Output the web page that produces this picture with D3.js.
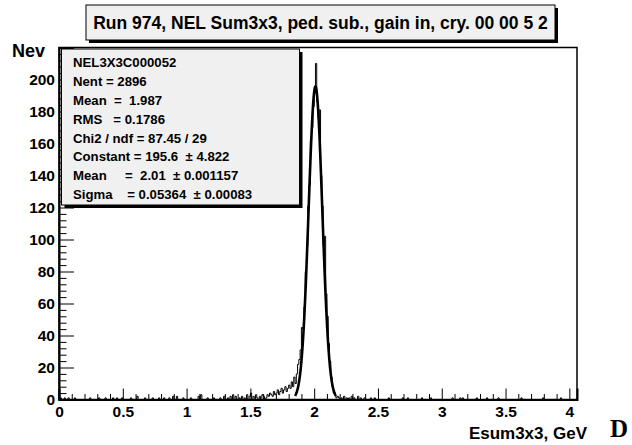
<!DOCTYPE html>
<html><head><meta charset="utf-8">
<script src="https://cdn.jsdelivr.net/npm/d3@7"></script>
<style>
html,body{margin:0;padding:0;background:#fff;}
svg{display:block;font-family:"Liberation Sans",Arial,sans-serif;font-weight:bold;}
</style></head>
<body><svg id="c" width="632" height="445"></svg>
<script>
// ---------- data ----------
const titleText = "Run 974, NEL Sum3x3, ped. sub., gain in, cry. 00 00 5 2";
const yAxisTitle = "Nev";
const xAxisTitle = "Esum3x3, GeV";
const cornerLabel = "D";
const xTickValues = [0, 0.5, 1, 1.5, 2, 2.5, 3, 3.5, 4];
const xTickLabels = ["0", "0.5", "1", "1.5", "2", "2.5", "3", "3.5", "4"];
const yTickValues = [0, 20, 40, 60, 80, 100, 120, 140, 160, 180, 200];
const yTickLabels = ["0", "20", "40", "60", "80", "100", "120", "140", "160", "180", "200"];
const xMin = 0, xMax = 4.06, yMax = 220;
const binWidth = 0.01;
// dense counts of the peak region, bins starting at 1.80
const peakStart = 1.80;
const peakCounts = [9, 7, 11, 8, 14, 10, 16, 22, 25, 31,
                    45, 44, 58, 80, 96, 121, 134, 162, 170, 183,
                    192, 210, 186, 176, 181, 140, 121, 96, 102, 66,
                    52, 35, 24, 14, 8, 4, 3, 1, 2, 1];
// sparse background bins outside the peak: [bin low edge, count]
const bgBins = [[0.01,1],[0.04,1],[0.07,1],[0.12,1],[0.24,1],[0.31,1],[0.36,1],[0.42,1],[0.45,1],[0.49,1],
  [0.56,1],[0.61,2],[0.67,1],[0.73,1],[0.78,1],[0.82,1],[0.86,1],[0.89,2],[0.92,2],[0.97,1],
  [1.03,1],[1.09,2],[1.11,3],[1.16,1],[1.21,1],[1.26,1],[1.29,2],[1.32,1],[1.34,2],[1.36,3],
  [1.38,2],[1.41,1],[1.43,2],[1.45,1],[1.47,3],[1.49,2],[1.50,4],[1.52,2],[1.54,3],[1.55,1],
  [1.57,2],[1.59,3],[1.60,2],[1.62,1],[1.63,3],[1.64,2],[1.65,4],[1.66,3],[1.67,2],[1.68,5],
  [1.69,3],[1.70,4],[1.71,6],[1.72,3],[1.73,5],[1.74,7],[1.75,4],[1.76,6],[1.77,8],[1.78,5],[1.79,7],
  [2.21,1],[2.23,2],[2.25,1],[2.27,1],[2.29,2],[2.31,1],[2.34,2],[2.36,1],[2.39,1],[2.44,1],
  [2.47,1],[2.58,1],[2.69,1],[2.73,1],[2.84,1],[2.91,1],[3.08,1],[3.14,1],[3.16,1],[3.27,1],
  [3.35,1],[3.44,1],[3.62,1],[3.79,1],[3.93,1]];
// fit (gaussian) parameters from the stats box
const fitConstant = 195.6, fitMean = 2.01, fitSigma = 0.05364;
const fitRange = [1.85, 2.17];
const statsLines = ["NEL3X3C000052", "Nent = 2896", "Mean  =  1.987", "RMS   = 0.1786",
  "Chi2 / ndf = 87.45 / 29", "Constant = 195.6  \u00b1 4.822", "Mean     =  2.01  \u00b1 0.001157",
  "Sigma    = 0.05364  \u00b1 0.00083"];

// ---------- build histogram ----------
const nBins = Math.round((xMax - xMin) / binWidth);
const counts = new Array(nBins).fill(0);
bgBins.forEach(([x, c]) => { counts[Math.round((x - xMin) / binWidth)] += c; });
peakCounts.forEach((c, i) => { counts[Math.round((peakStart - xMin) / binWidth) + i] += c; });
const histPts = counts.map((c, i) => [xMin + i * binWidth, c]);
histPts.push([xMax, counts[nBins - 1]]);

// ---------- layout ----------
const svg = d3.select("#c");
const L = 59, R = 577, T = 47.5, B = 399.5;
const x = d3.scaleLinear().domain([xMin, xMax]).range([L, R]);
const y = d3.scaleLinear().domain([0, yMax]).range([B, T]);

// histogram
svg.append("path")
  .attr("d", d3.line().x(d => x(d[0])).y(d => y(d[1])).curve(d3.curveStepAfter)(histPts))
  .attr("fill", "none").attr("stroke", "#000").attr("stroke-width", 1);

// fit curve
const fitXs = d3.range(0, 201).map(i => fitRange[0] + (fitRange[1] - fitRange[0]) * i / 200);
svg.append("path")
  .attr("d", d3.line().x(d => x(d)).y(d => y(fitConstant * Math.exp(-0.5 * Math.pow((d - fitMean) / fitSigma, 2))))(fitXs))
  .attr("fill", "none").attr("stroke", "#000").attr("stroke-width", 2.6);

// frame
svg.append("rect").attr("x", L).attr("y", T).attr("width", R - L).attr("height", B - T)
  .attr("fill", "none").attr("stroke", "#000").attr("stroke-width", 1.5);

// axes
const yMinor = d3.range(0, yMax + 0.1, 4).filter(v => v % 20 !== 0);
const xMinor = d3.range(0, 41).map(i => i / 10).filter(v => Math.abs(v * 2 - Math.round(v * 2)) > 1e-6);

const gy = svg.append("g").attr("transform", `translate(${L},0)`)
  .call(d3.axisLeft(y).tickValues(yTickValues).tickSize(-15).tickPadding(4)
    .tickFormat((d, i) => yTickLabels[i]));
gy.select(".domain").attr("stroke-width", 2);
const gyMinor = svg.append("g").attr("transform", `translate(${L},0)`)
  .call(d3.axisLeft(y).tickValues(yMinor).tickSize(-7.5).tickFormat(""));
gyMinor.select(".domain").remove();

const gx = svg.append("g").attr("transform", `translate(0,${B})`)
  .call(d3.axisBottom(x).tickValues(xTickValues).tickSize(-11).tickPadding(4)
    .tickFormat((d, i) => xTickLabels[i]));
gx.select(".domain").attr("stroke-width", 2);
const gxMinor = svg.append("g").attr("transform", `translate(0,${B})`)
  .call(d3.axisBottom(x).tickValues(xMinor).tickSize(-5.5).tickFormat(""));
gxMinor.select(".domain").remove();

svg.selectAll(".tick line").attr("stroke", "#000").attr("stroke-width", 1);
svg.selectAll(".tick text").attr("font-family", "Liberation Sans").attr("font-weight", "bold")
  .attr("font-size", 15.5).attr("fill", "#000");
gx.selectAll(".tick text").attr("dy", "0.9em");

// axis titles
svg.append("text").attr("x", 12).attr("y", 57).attr("font-size", 18).text(yAxisTitle);
svg.append("text").attr("x", 587).attr("y", 439).attr("text-anchor", "end").attr("font-size", 17).text(xAxisTitle);
svg.append("text").attr("x", 610).attr("y", 437).attr("font-family", "Liberation Serif").attr("font-size", 25).text(cornerLabel);

// title box
function box(x0, y0, w, h) {
  svg.append("rect").attr("x", x0 + 3).attr("y", y0 + 3).attr("width", w).attr("height", h).attr("fill", "#000");
  svg.append("rect").attr("x", x0).attr("y", y0).attr("width", w).attr("height", h)
    .attr("fill", "#f0f0f0").attr("stroke", "#000").attr("stroke-width", 1);
}
box(86, 5, 469, 35);
svg.append("text").attr("x", 320.5).attr("y", 29).attr("text-anchor", "middle").attr("font-size", 17.5).text(titleText);

// stats box
box(61.5, 49, 238, 156);
svg.append("g").selectAll("text").data(statsLines).join("text")
  .attr("x", 73).attr("y", (d, i) => 67.3 + i * 18.8)
  .attr("font-size", 13.2).attr("xml:space", "preserve").style("white-space", "pre")
  .text(d => d);
</script></body></html>
